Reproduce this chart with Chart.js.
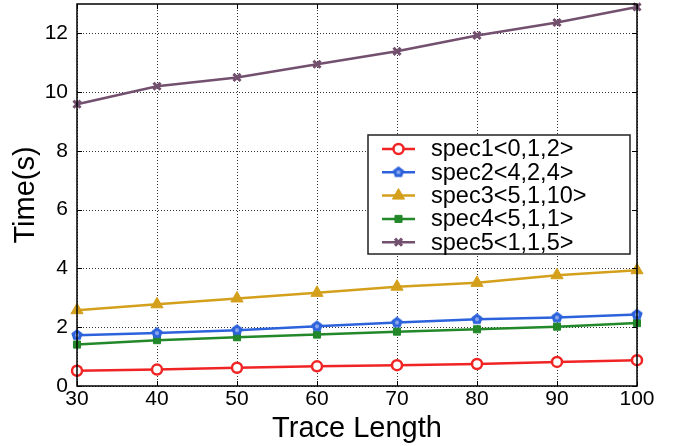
<!DOCTYPE html>
<html>
<head>
<meta charset="utf-8">
<script src="https://cdn.jsdelivr.net/npm/chart.js@4"></script>
<style>
  html, body { margin: 0; padding: 0; background: #fff; }
  #wrap { width: 678px; height: 446px; position: relative; }
</style>
</head>
<body>
<div id="wrap"><canvas id="chart" width="678" height="446"></canvas></div>
<script>
const traceLengths = [30, 40, 50, 60, 70, 80, 90, 100];
const yTicks = [0, 2, 4, 6, 8, 10, 12];

const spec1 = [0.52, 0.56, 0.62, 0.67, 0.71, 0.75, 0.82, 0.88];
const spec2 = [1.73, 1.80, 1.90, 2.03, 2.16, 2.27, 2.33, 2.43];
const spec3 = [2.58, 2.78, 2.98, 3.17, 3.38, 3.51, 3.77, 3.94];
const spec4 = [1.41, 1.56, 1.66, 1.75, 1.85, 1.93, 2.02, 2.14];
const spec5 = [9.59, 10.20, 10.50, 10.95, 11.39, 11.93, 12.37, 12.90];

const seriesNames = ["spec1<0,1,2>", "spec2<4,2,4>", "spec3<5,1,10>", "spec4<5,1,1>", "spec5<1,1,5>"];

const FONT = "'Liberation Sans', Arial, Helvetica, sans-serif";
const COLORS = ["#f02424", "#2c62dc", "#d4a01c", "#22882a", "#72506e"];

function pentagon(color, r) {
  const c = document.createElement("canvas");
  const s = r * 2 + 4;
  c.width = s; c.height = s;
  const g = c.getContext("2d");
  g.beginPath();
  for (let i = 0; i < 5; i++) {
    const a = -Math.PI / 2 + i * 2 * Math.PI / 5;
    const px = s / 2 + r * Math.cos(a), py = s / 2 + r * Math.sin(a);
    i ? g.lineTo(px, py) : g.moveTo(px, py);
  }
  g.closePath();
  g.fillStyle = color;
  g.fill();
  g.beginPath();
  g.arc(s / 2, s / 2, r * 0.35, 0, Math.PI * 2);
  g.fillStyle = "rgba(255,255,255,0.45)";
  g.fill();
  return c;
}

function pts(arr) {
  return traceLengths.map((x, i) => ({ x, y: arr[i] }));
}

const datasets = [
  { label: seriesNames[0], data: pts(spec1), borderColor: COLORS[0], backgroundColor: "#fff",
    pointStyle: "circle", pointRadius: 5, pointBorderWidth: 2.5 },
  { label: seriesNames[1], data: pts(spec2), borderColor: COLORS[1], backgroundColor: COLORS[1],
    pointStyle: pentagon(COLORS[1], 6), pointRadius: 6, pointBorderWidth: 1 },
  { label: seriesNames[2], data: pts(spec3), borderColor: COLORS[2], backgroundColor: COLORS[2],
    pointStyle: "triangle", pointRadius: 7, pointBorderWidth: 1 },
  { label: seriesNames[3], data: pts(spec4), borderColor: COLORS[3], backgroundColor: COLORS[3],
    pointStyle: "rect", pointRadius: 5, pointBorderWidth: 1 },
  { label: seriesNames[4], data: pts(spec5), borderColor: COLORS[4], backgroundColor: COLORS[4],
    pointStyle: "crossRot", pointRadius: 5, pointBorderWidth: 3 },
].map((d) => Object.assign({ borderWidth: 2.5, tension: 0, clip: false }, d));

// dotted grid under the lines
const gridPlugin = {
  id: "dotgrid",
  beforeDatasetsDraw(chart) {
    const { ctx, chartArea: a, scales } = chart;
    ctx.save();
    ctx.strokeStyle = "#333";
    ctx.lineWidth = 1;
    ctx.setLineDash([1, 2]);
    ctx.beginPath();
    traceLengths.forEach((v) => {
      const x = Math.round(scales.x.getPixelForValue(v)) + 0.5;
      ctx.moveTo(x, a.top); ctx.lineTo(x, a.bottom);
    });
    yTicks.forEach((v) => {
      const y = Math.round(scales.y.getPixelForValue(v)) + 0.5;
      ctx.moveTo(a.left, y); ctx.lineTo(a.right, y);
    });
    ctx.stroke();
    ctx.restore();
  },
};

// frame, inward tick marks and legend box
const framePlugin = {
  id: "frame",
  afterDraw(chart) {
    const { ctx, chartArea: a, scales } = chart;
    ctx.save();
    ctx.strokeStyle = "#000";
    ctx.lineWidth = 1.5;
    ctx.strokeRect(a.left, a.top, a.right - a.left, a.bottom - a.top);
    ctx.lineWidth = 1;
    const len = 5;
    ctx.beginPath();
    traceLengths.forEach((v) => {
      const x = Math.round(scales.x.getPixelForValue(v)) + 0.5;
      ctx.moveTo(x, a.bottom); ctx.lineTo(x, a.bottom - len);
      ctx.moveTo(x, a.top); ctx.lineTo(x, a.top + len);
    });
    yTicks.forEach((v) => {
      const y = Math.round(scales.y.getPixelForValue(v)) + 0.5;
      ctx.moveTo(a.left, y); ctx.lineTo(a.left + len, y);
      ctx.moveTo(a.right, y); ctx.lineTo(a.right - len, y);
    });
    ctx.stroke();

    // legend
    const lx = 368, ly = 135, lw = 262, lh = 119;
    ctx.fillStyle = "#fff";
    ctx.fillRect(lx, ly, lw, lh);
    ctx.strokeStyle = "#222";
    ctx.lineWidth = 1.5;
    ctx.strokeRect(lx, ly, lw, lh);
    chart.data.datasets.forEach((ds, i) => {
      const y = 149 + i * 23.3;
      ctx.strokeStyle = ds.borderColor;
      ctx.lineWidth = 2.5;
      ctx.beginPath();
      ctx.moveTo(382, y); ctx.lineTo(415, y);
      ctx.stroke();
      ctx.fillStyle = ds.backgroundColor;
      ctx.strokeStyle = ds.borderColor;
      ctx.lineWidth = ds.pointBorderWidth;
      Chart.helpers.drawPoint(ctx, {
        pointStyle: ds.pointStyle,
        radius: ds.pointRadius,
        rotation: 0,
        borderWidth: ds.pointBorderWidth,
      }, 398.5, y);
      ctx.fillStyle = "#000";
      ctx.font = "23.5px " + FONT;
      ctx.textBaseline = "middle";
      ctx.textAlign = "left";
      ctx.fillText(ds.label, 431, y + 1);
    });
    ctx.restore();
  },
};

new Chart(document.getElementById("chart"), {
  type: "line",
  data: { datasets },
  plugins: [gridPlugin, framePlugin],
  options: {
    responsive: false,
    animation: false,
    layout: { autoPadding: false, padding: { top: 4, right: 41, left: 0, bottom: 0 } },
    plugins: { legend: { display: false }, tooltip: { enabled: false } },
    scales: {
      x: {
        type: "linear",
        min: 30, max: 100,
        afterBuildTicks: (s) => { s.ticks = traceLengths.map((v) => ({ value: v })); },
        afterFit: (s) => { s.height = 60; s.paddingLeft = 0; s.paddingRight = 0; },
        grid: { display: false, drawTicks: false },
        border: { display: false },
        ticks: { color: "#000", font: { size: 21, family: FONT }, padding: 1, maxRotation: 0 },
        title: { display: true, text: "Trace Length", color: "#000", font: { size: 29, family: FONT }, padding: { top: 0, bottom: 0 } },
      },
      y: {
        min: 0, max: 13,
        afterBuildTicks: (s) => { s.ticks = yTicks.map((v) => ({ value: v })); },
        afterFit: (s) => { s.width = 77; s.paddingTop = 0; s.paddingBottom = 0; },
        grid: { display: false, drawTicks: false },
        border: { display: false },
        ticks: { color: "#000", font: { size: 21, family: FONT }, padding: 9 },
        title: { display: true, text: "Time(s)", color: "#000", font: { size: 29, family: FONT }, padding: { top: 9, bottom: 0 } },
      },
    },
  },
});
</script>
</body>
</html>
